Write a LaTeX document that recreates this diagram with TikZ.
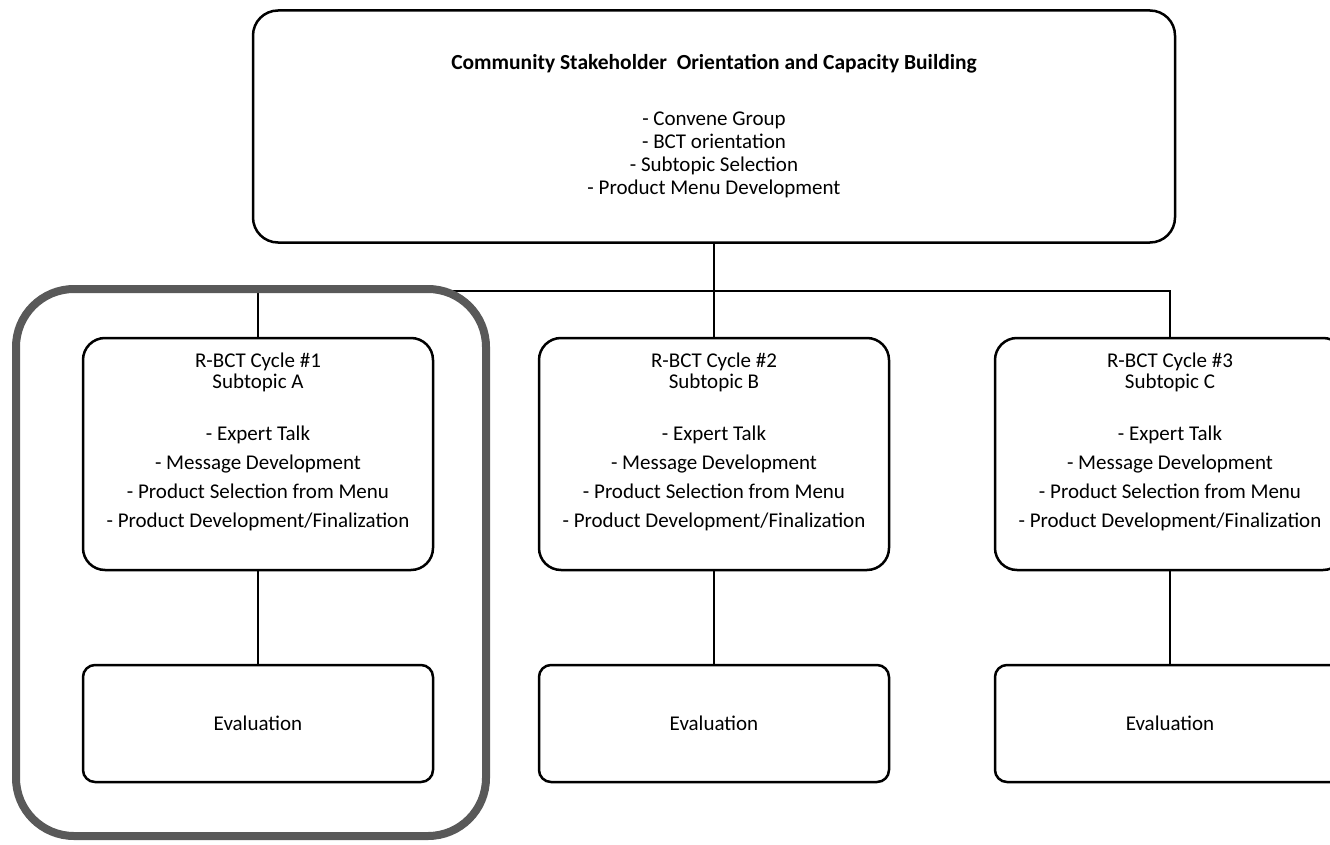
\documentclass[tikz,border=0pt]{standalone}
\usepackage{fontspec}
\setmainfont{Carlito}
\usetikzlibrary{positioning}
\tikzstyle{topbox} = [rectangle, rounded corners=25pt, draw=black, line width=2.5pt, minimum width=922pt, minimum height=232pt, align=center, font=\fontsize{21}{23}\selectfont]
\tikzstyle{cycle} = [rectangle, rounded corners=22pt, draw=black, line width=2.5pt, minimum width=350pt, minimum height=232pt, align=center, font=\fontsize{21}{21}\selectfont]
\tikzstyle{evalbox} = [rectangle, rounded corners=12pt, draw=black, line width=2.5pt, minimum width=350pt, minimum height=117pt, align=center, font=\fontsize{21}{21}\selectfont]
\tikzstyle{link} = [line width=2pt]
\tikzstyle{hilite} = [rectangle, rounded corners=58pt, draw=black!65, line width=8pt, minimum width=470pt, minimum height=547pt]
\newcommand{\cyc}[2]{R-BCT Cycle \##1\\Subtopic #2\\[31pt]
  - Expert Talk\\[8pt]
  - Message Development\\[8pt]
  - Product Selection from Menu\\[8pt]
  - Product Development/Finalization\\[6pt]~}

\begin{document}
\begin{tikzpicture}[x=1pt, y=-1pt]
  \clip (0,0) rectangle (1330,845);
  \fill[white] (0,0) rectangle (1330,845);

  % top box
  \node[topbox] (top) at (714,126.5) {\textbf{\fontsize{21.5}{23}\selectfont Community Stakeholder\ \ Orientation and Capacity Building}\\[33pt]
    - Convene Group\\
    - BCT orientation\\
    - Subtopic Selection\\
    - Product Menu Development};

  % cycles
  \node[cycle] (c1) at (258,454) {\cyc{1}{A}};
  \node[cycle] (c2) at (714,454) {\cyc{2}{B}};
  \node[cycle] (c3) at (1170,454) {\cyc{3}{C}};

  % evaluations
  \node[evalbox] (e1) at (258,723.5) {Evaluation};
  \node[evalbox] (e2) at (714,723.5) {Evaluation};
  \node[evalbox] (e3) at (1170,723.5) {Evaluation};

  % connectors
  \coordinate (bus) at (714,291);
  \draw[link] (top.south) -- (bus);
  \draw[link] (c1.north) |- (bus) -| (c3.north);
  \draw[link] (bus) -- (c2.north);
  \draw[link] (c1.south) -- (e1.north);
  \draw[link] (c2.south) -- (e2.north);
  \draw[link] (c3.south) -- (e3.north);

  % highlight of cycle 1
  \node[hilite] (hl) at (251,562.5) {};
\end{tikzpicture}
\end{document}
